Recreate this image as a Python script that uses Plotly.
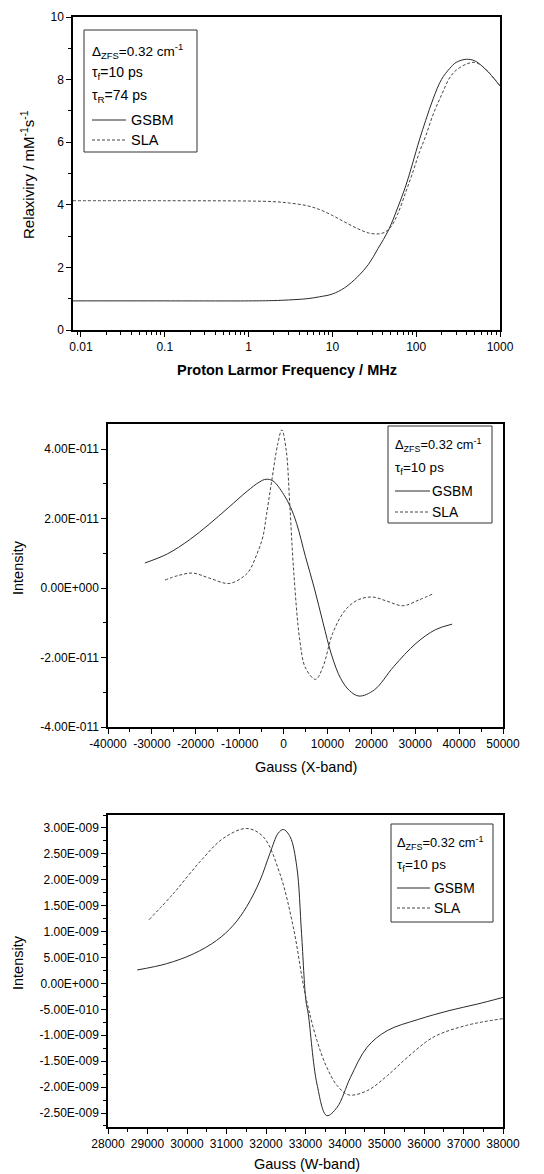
import plotly.graph_objects as go

# ---------------- DATA ----------------
# Top panel: relaxivity vs proton Larmor frequency (log axis)
top_freq_gsbm = [0.008, 0.1, 1, 2, 3, 5, 7, 10, 14, 20, 27, 35, 47, 60, 75, 90, 110, 130,
                 160, 200, 250, 300, 400, 500, 600, 750, 1000]
top_gsbm = [0.93, 0.93, 0.93, 0.94, 0.96, 1.0, 1.06, 1.15, 1.35, 1.7, 2.1, 2.6, 3.2, 3.9,
            4.6, 5.3, 6.1, 6.7, 7.4, 8.0, 8.35, 8.55, 8.65, 8.6, 8.45, 8.2, 7.8]
top_freq_sla = [0.008, 0.1, 1, 2, 3, 5, 7, 10, 14, 20, 27, 35, 42, 50, 60, 75, 90, 110,
                130, 160, 200, 250, 300, 400, 500, 600, 750, 1000]
top_sla = [4.13, 4.13, 4.12, 4.1, 4.06, 3.97, 3.85, 3.66, 3.45, 3.24, 3.1, 3.07, 3.12, 3.3,
           3.7, 4.4, 5.0, 5.7, 6.2, 6.9, 7.5, 8.05, 8.3, 8.5, 8.55, 8.45, 8.2, 7.8]

# Middle panel: X-band spectrum
xb_field_gsbm = [-31600, -26500, -21400, -17000, -12600, -8250, -5500, -4000, -2400, 0,
                 1500, 3000, 5000, 7000, 9000, 11000, 13000, 15000, 17200, 20700, 25100,
                 30200, 34600, 38400]
xb_gsbm = [0.72e-11, 0.98e-11, 1.39e-11, 1.83e-11, 2.31e-11, 2.79e-11, 3.05e-11, 3.13e-11,
           3.08e-11, 2.7e-11, 2.35e-11, 1.85e-11, 0.9e-11, 0.0, -1.0e-11, -1.95e-11,
           -2.6e-11, -2.95e-11, -3.11e-11, -2.93e-11, -2.26e-11, -1.59e-11, -1.2e-11,
           -1.04e-11]
xb_field_sla = [-27000, -24000, -20700, -17000, -12400, -9000, -7700, -6000, -4700, -3900,
                -2800, -1300, -400, 600, 1400, 2300, 3700, 5000, 7300, 9000, 11200, 14100,
                17000, 20300, 23600, 27200, 30900, 34000]
xb_sla = [0.23e-11, 0.36e-11, 0.43e-11, 0.29e-11, 0.13e-11, 0.34e-11, 0.52e-11, 1.0e-11,
          1.48e-11, 2.1e-11, 3.0e-11, 4.16e-11, 4.55e-11, 3.97e-11, 2.44e-11, 0.5e-11,
          -1.5e-11, -2.3e-11, -2.63e-11, -2.26e-11, -1.3e-11, -0.63e-11, -0.34e-11,
          -0.26e-11, -0.38e-11, -0.51e-11, -0.34e-11, -0.17e-11]

# Bottom panel: W-band spectrum
wb_field_gsbm = [28740, 29480, 30160, 30750, 31170, 31510, 31850, 32100, 32310, 32440,
                 32610, 32780, 32900, 33010, 33070, 33290, 33540, 33800, 34140, 34560,
                 35070, 35830, 36660, 37340, 38000]
wb_gsbm = [0.26e-9, 0.38e-9, 0.57e-9, 0.83e-9, 1.12e-9, 1.48e-9, 1.99e-9, 2.51e-9, 2.9e-9,
           2.97e-9, 2.83e-9, 2.25e-9, 0.96e-9, -0.33e-9, -0.59e-9, -1.94e-9, -2.55e-9,
           -2.39e-9, -1.81e-9, -1.23e-9, -0.91e-9, -0.7e-9, -0.52e-9, -0.4e-9, -0.27e-9]
wb_field_sla = [29040, 29650, 30330, 30920, 31510, 31930, 32350, 32690, 32990, 33290,
                33540, 33800, 34090, 34560, 35070, 35590, 36230, 37070, 38000]
wb_sla = [1.23e-9, 1.73e-9, 2.35e-9, 2.8e-9, 2.99e-9, 2.83e-9, 2.12e-9, 1.09e-9, -0.2e-9,
          -1.1e-9, -1.62e-9, -1.97e-9, -2.15e-9, -2.07e-9, -1.78e-9, -1.42e-9, -1.04e-9,
          -0.81e-9, -0.68e-9]

# Tick labels
top_xtick_vals = [0.01, 0.1, 1, 10, 100, 1000]
top_xtick_text = ["0.01", "0.1", "1", "10", "100", "1000"]
top_ytick_vals = [0, 2, 4, 6, 8, 10]
top_ytick_text = ["0", "2", "4", "6", "8", "10"]

mid_xtick_vals = [-40000, -30000, -20000, -10000, 0, 10000, 20000, 30000, 40000, 50000]
mid_xtick_text = ["-40000", "-30000", "-20000", "-10000", "0", "10000", "20000", "30000",
                  "40000", "50000"]
mid_ytick_vals = [-4e-11, -2e-11, 0, 2e-11, 4e-11]
mid_ytick_text = ["-4.00E-011", "-2.00E-011", "0.00E+000", "2.00E-011", "4.00E-011"]

bot_xtick_vals = [28000, 29000, 30000, 31000, 32000, 33000, 34000, 35000, 36000, 37000, 38000]
bot_xtick_text = [str(v) for v in bot_xtick_vals]
bot_ytick_vals = [-2.5e-9, -2e-9, -1.5e-9, -1e-9, -0.5e-9, 0, 0.5e-9, 1e-9, 1.5e-9,
                  2e-9, 2.5e-9, 3e-9]
bot_ytick_text = ["-2.50E-009", "-2.00E-009", "-1.50E-009", "-1.00E-009", "-5.00E-010",
                  "0.00E+000", "5.00E-010", "1.00E-009", "1.50E-009", "2.00E-009",
                  "2.50E-009", "3.00E-009"]

legend_top = ["Δ<sub>ZFS</sub>=0.32 cm<sup>-1</sup>", "τ<sub>f</sub>=10 ps",
              "τ<sub>R</sub>=74 ps"]
legend_lower = ["Δ<sub>ZFS</sub>=0.32 cm<sup>-1</sup>", "τ<sub>f</sub>=10 ps"]
series_names = ["GSBM", "SLA"]

# ---------------- LAYOUT HELPERS ----------------
# The page body adds an 8 px margin, so the figure is 8 px smaller than the window
# and all positions (measured in window pixels) are shifted by that offset.
OFF = 8
W, H = 544 - OFF, 1174 - OFF
FONT = "Liberation Sans, Arial, sans-serif"
INK = "#000000"
CURVE = "#2a2a2a"


def fx(x):
    return (x - OFF) / W


def fy(y):
    return 1 - (y - OFF) / H


solid = dict(color=CURVE, width=1)
dashed = dict(color="#444444", width=1, dash="3px,2px")

fig = go.Figure()
fig.add_trace(go.Scatter(x=top_freq_gsbm, y=top_gsbm, mode="lines", line=solid,
                         line_shape="spline", xaxis="x", yaxis="y", showlegend=False))
fig.add_trace(go.Scatter(x=top_freq_sla, y=top_sla, mode="lines", line=dashed,
                         line_shape="spline", xaxis="x", yaxis="y", showlegend=False))
fig.add_trace(go.Scatter(x=xb_field_gsbm, y=xb_gsbm, mode="lines", line=solid,
                         line_shape="spline", xaxis="x2", yaxis="y2", showlegend=False))
fig.add_trace(go.Scatter(x=xb_field_sla, y=xb_sla, mode="lines", line=dashed,
                         line_shape="spline", xaxis="x2", yaxis="y2", showlegend=False))
fig.add_trace(go.Scatter(x=wb_field_gsbm, y=wb_gsbm, mode="lines", line=solid,
                         line_shape="spline", xaxis="x3", yaxis="y3", showlegend=False))
fig.add_trace(go.Scatter(x=wb_field_sla, y=wb_sla, mode="lines", line=dashed,
                         line_shape="spline", xaxis="x3", yaxis="y3", showlegend=False))

axis_common = dict(showline=True, linecolor=INK, linewidth=1.5, mirror=True,
                   ticks="outside", ticklen=5, tickwidth=1.2, tickcolor=INK,
                   showgrid=False, zeroline=False, automargin=False,
                   tickfont=dict(family=FONT, size=12, color=INK))

log_minor = [m * 10 ** e for e in range(-3, 3) for m in range(2, 10)]
log_minor = [v for v in log_minor if 0.008 < v < 1000]

fig.update_layout(
    template="none",
    width=W, height=H, margin=dict(l=0, r=0, t=0, b=0, autoexpand=False),
    paper_bgcolor="white", plot_bgcolor="white", showlegend=False,
    xaxis=dict(axis_common, domain=[fx(73), fx(500)], anchor="y", type="log",
               range=[-2.095, 3.0], tickmode="array", tickvals=top_xtick_vals,
               ticktext=top_xtick_text,
               minor=dict(tickmode="array", tickvals=log_minor, ticks="outside",
                          ticklen=3, tickwidth=1, tickcolor=INK)),
    yaxis=dict(axis_common, domain=[fy(330), fy(17)], anchor="x", range=[0, 10],
               tickmode="array", tickvals=top_ytick_vals, ticktext=top_ytick_text,
               minor=dict(dtick=1, tick0=0, ticks="outside", ticklen=3, tickwidth=1,
                          tickcolor=INK)),
    xaxis2=dict(axis_common, domain=[fx(108), fx(503)], anchor="y2",
                range=[-40000, 50000], tickmode="array", tickvals=mid_xtick_vals,
                ticktext=mid_xtick_text,
                minor=dict(dtick=5000, tick0=0, ticks="outside", ticklen=3, tickwidth=1,
                           tickcolor=INK)),
    yaxis2=dict(axis_common, domain=[fy(727), fy(424)], anchor="x2",
                range=[-4e-11, 4.72e-11], tickmode="array", tickvals=mid_ytick_vals,
                ticktext=mid_ytick_text,
                minor=dict(dtick=1e-11, tick0=0, ticks="outside", ticklen=3, tickwidth=1,
                           tickcolor=INK)),
    xaxis3=dict(axis_common, domain=[fx(108), fx(503)], anchor="y3",
                range=[28000, 38000], tickmode="array", tickvals=bot_xtick_vals,
                ticktext=bot_xtick_text,
                minor=dict(dtick=500, tick0=0, ticks="outside", ticklen=3, tickwidth=1,
                           tickcolor=INK)),
    yaxis3=dict(axis_common, domain=[fy(1127), fy(815)], anchor="x3",
                range=[-2.77e-9, 3.25e-9], tickmode="array", tickvals=bot_ytick_vals,
                ticktext=bot_ytick_text,
                minor=dict(dtick=2.5e-10, tick0=0, ticks="outside", ticklen=3,
                           tickwidth=1, tickcolor=INK)),
)

annotations = []
shapes = []


def add_text(x, y, text, size=14, bold=False, angle=0, xanchor="center"):
    annotations.append(dict(
        xref="paper", yref="paper", x=fx(x), y=fy(y), text=f"<b>{text}</b>" if bold else text,
        showarrow=False, xanchor=xanchor, yanchor="middle", textangle=angle,
        font=dict(family=FONT, size=size, color=INK)))


# axis titles
add_text(287, 370, "Proton Larmor Frequency / MHz", size=14.5, bold=True)
add_text(27, 175, "Relaxiviry / mM<sup>-1</sup>s<sup>-1</sup>", size=15, angle=-90)
add_text(306, 767, "Gauss (X-band)", size=14.5)
add_text(18, 568, "Intensity", size=14.5, angle=-90)
add_text(307, 1164, "Gauss (W-band)", size=14.5)
add_text(18, 963, "Intensity", size=14.5, angle=-90)


def add_legend(box, text_x, rows_y, texts, text_sizes, sample, name_x, size):
    x0, y0, x1, y1 = box
    shapes.append(dict(type="rect", xref="paper", yref="paper", x0=fx(x0), x1=fx(x1),
                       y0=fy(y1), y1=fy(y0), line=dict(color="#333333", width=1),
                       fillcolor="white", layer="above"))
    n = len(texts)
    for t, ts, yy in zip(texts, text_sizes, rows_y[:n]):
        add_text(text_x, yy, t, size=ts, xanchor="left")
    for k, (nm, yy) in enumerate(zip(series_names, rows_y[n:])):
        ln = dict(color=CURVE, width=1) if k == 0 else dict(color="#444444", width=1,
                                                            dash="3px,2px")
        shapes.append(dict(type="line", xref="paper", yref="paper", x0=fx(sample[0]),
                           x1=fx(sample[1]), y0=fy(yy), y1=fy(yy), line=ln, layer="above"))
        add_text(name_x, yy, nm, size=size, xanchor="left")


add_legend((84, 30, 197, 152), 90, [51, 73, 96, 120, 140], legend_top,
           [13.5, 14, 14], (92, 126), 129, 14.5)
add_legend((388, 426, 492, 523), 393, [445, 468, 491, 512], legend_lower,
           [12.8, 13.5], (395, 430), 430, 13.8)
add_legend((391, 824, 493, 922), 395, [843, 865, 888, 908], legend_lower,
           [12.8, 13.5], (397, 430), 432, 13.8)

fig.update_layout(annotations=annotations, shapes=shapes)
fig.write_html("out.html")
